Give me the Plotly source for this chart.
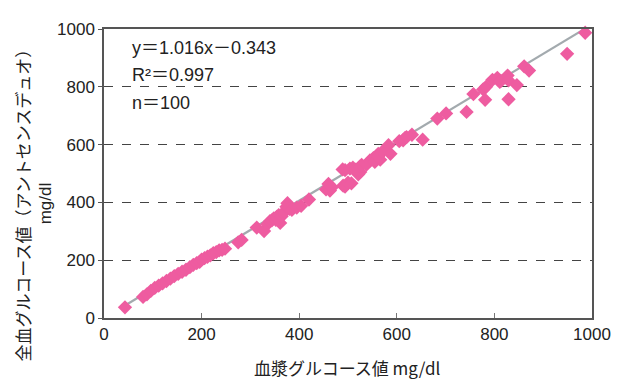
import plotly.graph_objects as go

plasma = [43, 80, 88, 96, 104, 112, 120, 128, 136, 144, 152, 160, 168, 176, 183, 190,
          196, 200, 206, 212, 218, 224, 230, 236, 242, 248, 275, 282,
          313, 328, 335, 340, 344, 348, 352, 354, 358, 361, 364, 367, 370, 374, 376, 380,
          385, 395, 404, 420,
          455, 460, 463, 467, 490, 494, 500, 507, 521, 525, 489, 494, 504, 510, 515, 525,
          528, 538, 545, 552, 555, 562, 566, 562, 570, 583, 587,
          605, 613, 617, 620, 631, 653, 683, 701, 743,
          757, 777, 783, 781, 796, 806, 811, 813, 827, 829, 829, 846, 861, 871, 949, 986]
whole = [37, 73, 82, 94, 104, 112, 120, 128, 136, 145, 153, 160, 167, 176, 184, 190,
         194, 202, 207, 212, 217, 224, 228, 234, 236, 240, 262, 270,
         313, 301, 325, 335, 338, 345, 340, 350, 356, 329, 352, 363, 368, 385, 397, 378,
         374, 382, 388, 410,
         445, 464, 441, 452, 458, 455, 468, 466, 497, 505, 514, 512, 517, 520, 513, 525,
         530, 531, 545, 553, 540, 568, 548, 559, 575, 598, 568,
         612, 615, 623, 626, 634, 617, 690, 708, 713,
         775, 791, 800, 755, 824, 831, 817, 820, 839, 822, 757, 806, 871, 856, 914, 987]

slope = 1.016
intercept = -0.343
fit_x = [min(plasma), max(plasma)]
fit_y = [slope * v + intercept for v in fit_x]

eq_lines = ["y＝1.016x－0.343", "R²＝0.997", "n＝100"]
eq_y = [934, 840, 743]

FONT = "Liberation Sans, Arial, Noto Sans CJK JP"
JP = "Noto Sans CJK JP, Liberation Sans"

fig = go.Figure()
fig.add_trace(go.Scatter(x=fit_x, y=fit_y, mode="lines",
                         line=dict(color="#a3aaae", width=2.2), hoverinfo="skip"))
fig.add_trace(go.Scatter(x=plasma, y=whole, mode="markers", cliponaxis=False,
                         marker=dict(symbol="diamond", size=11, color="#ee5ca0",
                                     line=dict(width=0))))

for t, yy in zip(eq_lines, eq_y):
    fig.add_annotation(x=53, y=yy, xref="x", yref="y", text=t, showarrow=False,
                       xanchor="left", yanchor="middle",
                       font=dict(family=FONT, size=18, color="#222"))

fig.add_annotation(x=(347 - 104) / 488, y=(318 - 369) / 297.5, xref="paper", yref="paper",
                   text="血漿グルコース値 mg/dl", showarrow=False,
                   xanchor="center", yanchor="middle",
                   font=dict(family=JP, size=17, color="#222"))
fig.add_annotation(x=(22 - 104) / 488, y=(318 - 198) / 297.5, xref="paper", yref="paper",
                   text="全血グルコース値（アントセンスデュオ）", showarrow=False, textangle=-90,
                   xanchor="center", yanchor="middle",
                   font=dict(family=JP, size=17, color="#222"))
fig.add_annotation(x=(45 - 104) / 488, y=(318 - 200) / 297.5, xref="paper", yref="paper",
                   text="mg/dl", showarrow=False, textangle=-90,
                   xanchor="center", yanchor="middle",
                   font=dict(family=FONT, size=17, color="#222"))

# page body has an 8px default margin, so the figure is offset by 8px
fig.update_layout(
    width=623, height=373,
    margin=dict(l=96, r=39, t=12, b=63),
    plot_bgcolor="white", paper_bgcolor="white",
    showlegend=False,
    font=dict(family=FONT, size=17, color="#222"),
)
fig.update_xaxes(range=[0, 1000], tickvals=[0, 200, 400, 600, 800, 1000],
                 showgrid=False, zeroline=False, showline=True, linecolor="#555",
                 linewidth=1.5, mirror=True, ticks="inside", ticklen=5, tickcolor="#777",
                 tickfont=dict(family=FONT, size=17, color="#222"))
fig.update_yaxes(range=[0, 1000], tickvals=[0, 200, 400, 600, 800, 1000],
                 showgrid=True, gridcolor="#444", griddash="dash", gridwidth=1,
                 zeroline=False, showline=True, linecolor="#555",
                 linewidth=1.5, mirror=True, ticks="outside", ticklen=4, tickcolor="#555",
                 tickfont=dict(family=FONT, size=17, color="#222"))

fig.write_html("out.html")
